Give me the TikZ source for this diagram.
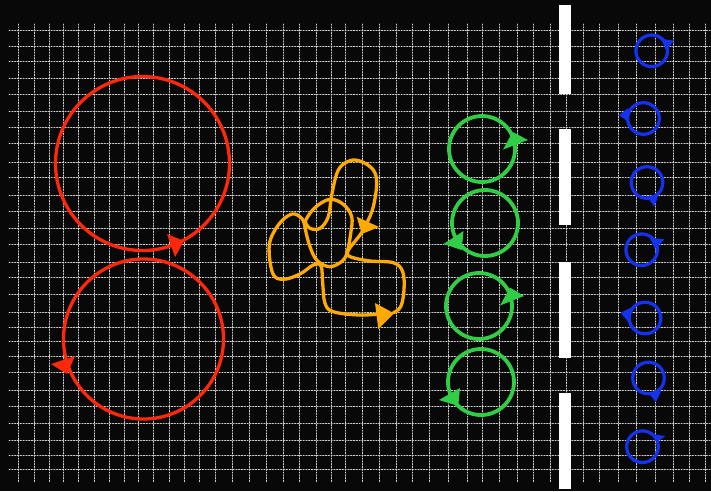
\documentclass[tikz,border=0pt]{standalone}
\usepackage{tikz}
\usetikzlibrary{calc}
\definecolor{myred}{RGB}{255,40,10}
\definecolor{myorange}{RGB}{255,170,0}
\definecolor{mygreen}{RGB}{50,205,70}
\definecolor{myblue}{RGB}{20,50,240}
\definecolor{sfondo}{RGB}{8,8,8}

\begin{document}
\begin{tikzpicture}[x=1pt,y=-1pt,line cap=round,line join=round,
    gridline/.style={white!80!black, line width=1pt, dash pattern=on 1.2pt off 1.6pt},
    loopline/.style={line width=3.3pt}]
		%sfondo nero
		\fill[sfondo] (0,0) rectangle (711,491);
		\useasboundingbox (0,0) rectangle (711,491);
		%griglia
		\foreach \x in {18,34,49,63,78,94,109,124,138,153,169,184,199,215,232,249,266,283,299,316,331,345,362,379,396,412,429,448,467,482,499,517,533,550,566,583,599,618,636,655,673,689,705}
		  \draw[gridline] (\x,24) -- (\x,482);
		\foreach \y in {30,46,61,78,94,111,127,143,162,177,195,211,228,244,262,277,294,312,327,341,356,372,390,406,423,440,455,469}
		  \draw[gridline] (9,\y) -- (711,\y);

		% cerchi rossi
		\coordinate (redtop) at (142.5,163.5);
		\coordinate (redbot) at (143.5,339);
		\draw[loopline, myred] (redtop) circle[radius=87pt];
		\draw[loopline, myred] (redbot) circle[radius=80pt];
		\fill[myred] (184,241) -- (167,234) -- (175,257) -- cycle;
		\fill[myred] (51,364) -- (75,356) -- (67,374) -- cycle;

		% percorso arancione
		\draw[loopline, myorange] plot[smooth, tension=0.6] coordinates {(305,226.7) (301.7,218.3) (291.7,214) (278.3,225) (269.3,245) (272.7,273.3) (283.3,279.3) (300,274) (313.3,265) (321,266) (322.7,283.3) (325,303.3) (333.3,311.7) (360,315) (388,313.3)};
		\draw[loopline, myorange] plot[smooth cycle, tension=0.6] coordinates {(305,226.7) (310,246.7) (317.3,260.7) (330,266.7) (342.7,260.7) (347.3,251.7) (350.7,233.3) (351.7,216.7) (343.3,204.3) (330,199.3) (316,206.7) (306.7,218.3)};
		\draw[loopline, myorange] plot[smooth, tension=0.6] coordinates {(305,221.7) (310,228.3) (320,228.3) (328.3,216.7) (331.7,195) (338.3,170) (350,160.7) (361.7,161.7) (373.3,170) (376.7,183.3) (373.3,206.7) (366.7,223.3) (360,235) (350.7,246.7) (347.3,253.3) (351.7,257.3) (370,261) (393.3,262.7) (402.7,271.7) (404,290) (400.7,306.7) (393.3,312.7)};
		\fill[myorange] (379,227) -- (356.7,216.7) -- (361.7,234) -- cycle;
		\fill[myorange] (394,313.3) -- (375,303) -- (378.3,329) -- cycle;

		% cerchi verdi
		\coordinate (green1) at (482,149);
		\coordinate (green2) at (485,223);
		\coordinate (green3) at (479,306);
		\coordinate (green4) at (481,382);
		\foreach \c in {green1,green2,green3,green4}
		  \draw[loopline, line width=3.8pt, mygreen] (\c) circle[radius=33pt];
		\fill[mygreen] (528,140) -- (512.7,132) -- (503,149.5) -- cycle;
		\fill[mygreen] (443.5,244) -- (463.5,231) -- (461.7,250) -- cycle;
		\fill[mygreen] (524,296) -- (510,287.5) -- (500,305.5) -- cycle;
		\fill[mygreen] (439,400) -- (460,388) -- (458.3,406) -- cycle;

		% barre bianche
		\fill[white] (558.5,5) rectangle (570.8,93.5);
		\fill[white] (558.5,129) rectangle (570.8,225);
		\fill[white] (558.7,261.5) rectangle (571,357.5);
		\fill[white] (558.7,392.5) rectangle (571,489);

		% cerchi blu
		\coordinate (blue1) at (651.7,50.8);
		\coordinate (blue2) at (643.5,118.5);
		\coordinate (blue3) at (647,182.5);
		\coordinate (blue4) at (641.7,249.7);
		\coordinate (blue5) at (645,318);
		\coordinate (blue6) at (648.5,378);
		\coordinate (blue7) at (642.5,446.7);
		\foreach \c in {blue1,blue2,blue3,blue4,blue5,blue6,blue7}
		  \draw[loopline, line width=3.2pt, myblue] (\c) circle[radius=15.8pt];
		\fill[myblue] (674,40.7) -- (661.3,38.8) -- (666,50.5) -- cycle;
		\fill[myblue] (619,115) -- (628.5,107.8) -- (627.3,121.2) -- cycle;
		\fill[myblue] (654.5,206.5) -- (646.5,196.2) -- (658.5,194.6) -- cycle;
		\fill[myblue] (664.5,239.3) -- (649.8,237.8) -- (655,248.8) -- cycle;
		\fill[myblue] (620.5,312.7) -- (631,307.8) -- (629.5,323.2) -- cycle;
		\fill[myblue] (656,402.2) -- (648,392.2) -- (661,391.2) -- cycle;
		\fill[myblue] (665.5,436) -- (654,434.5) -- (656.7,442.2) -- cycle;
\end{tikzpicture}
\end{document}
